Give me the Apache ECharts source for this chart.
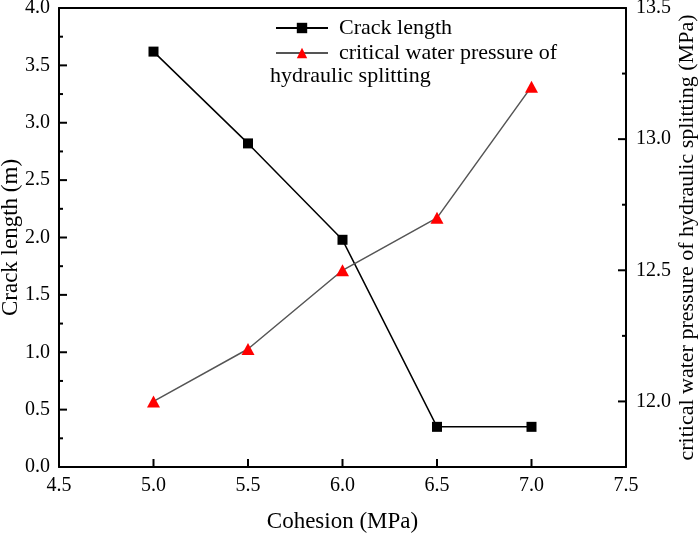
<!DOCTYPE html>
<html>
<head>
<meta charset="utf-8">
<script src="https://cdn.jsdelivr.net/npm/echarts@6/dist/echarts.min.js"></script>
<style>html,body{margin:0;padding:0;background:#fff;}#c{width:699px;height:533px;}</style>
</head>
<body>
<div id="c"></div>
<script>
const cohesion = [5.0, 5.5, 6.0, 6.5, 7.0];
const crackLength = [3.62, 2.82, 1.98, 0.35, 0.35];
const criticalPressure = [12.0, 12.2, 12.5, 12.7, 13.2];
const xTicks = [5.0, 5.5, 6.0, 6.5, 7.0];
const leftMajorTicks = [0.5, 1.0, 1.5, 2.0, 2.5, 3.0, 3.5];
const leftMinorTicks = [0.25, 0.75, 1.25, 1.75, 2.25, 2.75, 3.25, 3.75];
const rightMajorTicks = [12.0, 12.5, 13.0];
const rightMinorTicks = [12.25, 12.75, 13.25];
const seriesNames = ['Crack length', 'critical water pressure of hydraulic splitting'];
const legendFirstLine = 'critical water pressure of';
const legendSecondLine = 'hydraulic splitting';

const FONT = 'Liberation Serif';
const chart = echarts.init(document.getElementById('c'));
const axisLine = {show: true, lineStyle: {color: '#000', width: 2}};
const legendText = {
  id: 'legend2', type: 'text', left: 270, top: 65,
  style: {text: legendSecondLine, fontFamily: FONT, fontSize: 22, fill: '#000'}
};
chart.setOption({
  backgroundColor: '#fff',
  animation: false,
  grid: {left: 59, right: 73, top: 8, bottom: 66, containLabel: false, outerBoundsMode: 'none', show: false},
  legend: {
    orient: 'vertical', left: 270, top: 12, itemGap: 3, itemWidth: 52, itemHeight: 13,
    textStyle: {fontFamily: FONT, fontSize: 22, color: '#000', padding: [0, 0, 0, 6]},
    formatter: function (n) { return n === seriesNames[1] ? legendFirstLine : n; },
    data: seriesNames
  },
  graphic: [legendText],
  xAxis: [{
    type: 'value', min: 4.5, max: 7.5, interval: 0.5, position: 'bottom',
    name: 'Cohesion (MPa)', nameLocation: 'middle', nameGap: 43,
    nameTextStyle: {fontFamily: FONT, fontSize: 23, color: '#000'},
    axisLine: axisLine,
    axisTick: {show: false},
    axisLabel: {fontFamily: FONT, fontSize: 20, color: '#000', margin: 9, formatter: v => v.toFixed(1)},
    splitLine: {show: false}
  }, {
    type: 'value', min: 4.5, max: 7.5, interval: 0.5, position: 'top',
    axisLine: axisLine, axisTick: {show: false}, axisLabel: {show: false}, splitLine: {show: false}
  }],
  yAxis: [{
    type: 'value', min: 0, max: 4, interval: 0.5, position: 'left',
    name: 'Crack length (m)', nameLocation: 'middle', nameGap: 37, nameRotate: 90, nameMoveOverlap: false,
    nameTextStyle: {fontFamily: FONT, fontSize: 23, color: '#000'},
    axisLine: axisLine,
    axisTick: {show: false}, minorTick: {show: false},
    axisLabel: {fontFamily: FONT, fontSize: 20, color: '#000', margin: 9, formatter: v => v.toFixed(1)},
    splitLine: {show: false}
  }, {
    type: 'value', min: 11.75, max: 13.5, interval: 0.25, position: 'right',
    name: 'critical water pressure of hydraulic splitting (MPa)', nameLocation: 'middle', nameGap: 50, nameRotate: 90, nameMoveOverlap: false,
    nameTextStyle: {fontFamily: FONT, fontSize: 22, color: '#000'},
    axisLine: axisLine,
    axisTick: {show: false}, minorTick: {show: false},
    axisLabel: {fontFamily: FONT, fontSize: 20, color: '#000', margin: 10,
      formatter: v => (Math.abs(v * 2 - Math.round(v * 2)) < 1e-6 ? v.toFixed(1) : '')},
    splitLine: {show: false}
  }],
  series: [{
    name: seriesNames[0], type: 'line', yAxisIndex: 0,
    data: cohesion.map((x, i) => [x, crackLength[i]]),
    symbol: 'rect', symbolSize: 10,
    lineStyle: {color: '#000', width: 1.5},
    itemStyle: {color: '#000'}
  }, {
    name: seriesNames[1], type: 'line', yAxisIndex: 1,
    data: cohesion.map((x, i) => [x, criticalPressure[i]]),
    symbol: 'triangle', symbolSize: [13, 12],
    lineStyle: {color: '#555', width: 1.5},
    itemStyle: {color: '#ff0000'}
  }]
});

// Tick marks placed through the chart's own axis scales (inward-pointing, as in the reference)
const px = v => chart.convertToPixel({xAxisIndex: 0}, v);
const pyL = v => chart.convertToPixel({yAxisIndex: 0}, v);
const pyR = v => chart.convertToPixel({yAxisIndex: 1}, v);
const xLeft = px(4.5), xRight = px(7.5), yBottom = pyL(0);
const tickLine = (x1, y1, x2, y2) => ({type: 'line', silent: true, z: 10,
  shape: {x1: x1, y1: y1, x2: x2, y2: y2}, style: {stroke: '#000', lineWidth: 2}});
const ticks = [];
xTicks.forEach(v => { const x = px(v); ticks.push(tickLine(x, yBottom, x, yBottom - 8)); });
leftMajorTicks.forEach(v => { const y = pyL(v); ticks.push(tickLine(xLeft, y, xLeft + 8, y)); });
leftMinorTicks.forEach(v => { const y = pyL(v); ticks.push(tickLine(xLeft, y, xLeft + 4, y)); });
rightMajorTicks.forEach(v => { const y = pyR(v); ticks.push(tickLine(xRight, y, xRight - 8, y)); });
rightMinorTicks.forEach(v => { const y = pyR(v); ticks.push(tickLine(xRight, y, xRight - 4, y)); });
chart.setOption({graphic: [legendText].concat(ticks)});
</script>
</body>
</html>
